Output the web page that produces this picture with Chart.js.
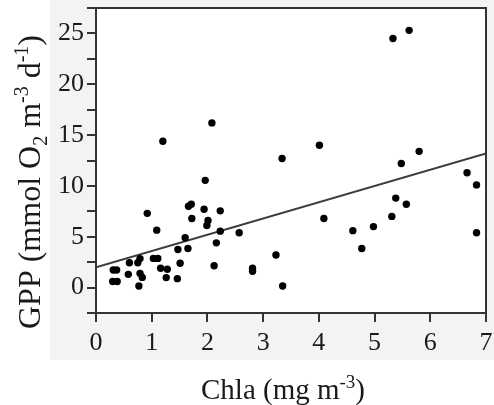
<!DOCTYPE html>
<html>
<head>
<meta charset="utf-8">
<script src="https://cdn.jsdelivr.net/npm/chart.js@4"></script>
<style>
  html, body { margin: 0; padding: 0; background: #fff; }
</style>
</head>
<body>
<canvas id="gppChart" width="494" height="405"></canvas>
<script>
// Chla (mg m-3) and GPP (mmol O2 m-3 d-1) per sample
const chla = [1.20, 2.08, 3.34, 5.33, 5.62, 4.01, 5.80, 5.48, 6.66, 6.83,
  5.38, 5.57, 4.09, 4.61, 4.98, 5.31, 4.77, 6.83, 3.35, 1.96,
  0.92, 1.66, 1.71, 1.94, 2.23, 1.72, 2.01, 1.99, 1.09, 2.23,
  2.57, 1.60, 1.47, 1.65, 2.16, 1.51, 2.12, 2.81, 2.81, 3.23,
  0.31, 0.37, 0.30, 0.38, 0.58, 0.60, 0.75, 0.79, 0.77, 0.79,
  0.83, 1.03, 1.11, 1.16, 1.28, 1.26, 1.46];
const gpp = [14.4, 16.2, 12.7, 24.5, 25.3, 14.0, 13.4, 12.2, 11.3, 10.1,
  8.8, 8.2, 6.8, 5.6, 6.0, 7.0, 3.85, 5.4, 0.16, 10.55,
  7.3, 8.0, 8.2, 7.7, 7.55, 6.8, 6.6, 6.1, 5.65, 5.55,
  5.4, 4.9, 3.75, 3.85, 4.4, 2.4, 2.15, 1.9, 1.6, 3.2,
  1.73, 1.73, 0.6, 0.6, 1.3, 2.45, 2.45, 2.85, 0.16, 1.4,
  1.0, 2.87, 2.87, 1.9, 1.8, 0.98, 0.88];

// linear fit end points
const fitX = [0, 7];
const fitY = [2.0, 13.2];

const xTickValues = [0, 1, 2, 3, 4, 5, 6, 7];
const yTickLabels = [0, 5, 10, 15, 20, 25];

const yTitle = [
  { t: 'GPP (mmol O' }, { t: '2', sub: true }, { t: ' m' }, { t: '-3', sup: true },
  { t: ' d' }, { t: '-1', sup: true }, { t: ')' }
];
const xTitle = [{ t: 'Chla (mg m' }, { t: '-3', sup: true }, { t: ')' }];

const FONT = '"Liberation Serif", "Times New Roman", serif';
const INK = '#1a1a1a';
const AXIS = '#333';

// text with small sub/superscript pieces, centred on (0,0) baseline
function drawRich(ctx, parts, size) {
  const small = Math.round(size * 0.64);
  let width = 0;
  parts.forEach(p => {
    ctx.font = `${p.sub || p.sup ? small : size}px ${FONT}`;
    p.w = ctx.measureText(p.t).width;
    width += p.w;
  });
  let x = -width / 2;
  parts.forEach(p => {
    ctx.font = `${p.sub || p.sup ? small : size}px ${FONT}`;
    let dy = 0;
    if (p.sub) dy = size * 0.22;
    if (p.sup) dy = -size * 0.38;
    ctx.fillText(p.t, x, dy);
    x += p.w;
  });
}

const framePlugin = {
  id: 'frame',
  beforeDraw(chart) {
    const { ctx, chartArea: a } = chart;
    ctx.save();
    ctx.fillStyle = '#fff';
    ctx.fillRect(0, 0, chart.width, chart.height);
    ctx.fillStyle = '#f3f3f3';
    ctx.fillRect(50, 0, chart.width - 50, 360);
    ctx.fillStyle = '#fff';
    ctx.fillRect(a.left, a.top, a.right - a.left, a.bottom - a.top);
    ctx.restore();
  },
  afterDraw(chart) {
    const { ctx, chartArea: a } = chart;
    ctx.save();
    ctx.strokeStyle = AXIS;
    ctx.lineWidth = 2;
    ctx.strokeRect(a.left, a.top, a.right - a.left, a.bottom - a.top);

    ctx.fillStyle = INK;
    ctx.textBaseline = 'alphabetic';
    ctx.textAlign = 'left';
    // x axis title
    ctx.save();
    ctx.translate(283, 399);
    drawRich(ctx, xTitle, 29);
    ctx.restore();
    // y axis title
    ctx.save();
    ctx.translate(40, 182);
    ctx.rotate(-Math.PI / 2);
    drawRich(ctx, yTitle, 32);
    ctx.restore();
    ctx.restore();
  }
};

const ctx = document.getElementById('gppChart').getContext('2d');
new Chart(ctx, {
  type: 'scatter',
  data: {
    datasets: [{
      label: 'GPP',
      data: chla.map((x, i) => ({ x: x, y: gpp[i] })),
      pointRadius: 3.7,
      pointBackgroundColor: '#000',
      pointBorderWidth: 0,
      showLine: false
    }, {
      label: 'fit',
      data: fitX.map((x, i) => ({ x: x, y: fitY[i] })),
      showLine: true,
      borderColor: '#3c3c3c',
      borderWidth: 2,
      pointRadius: 0
    }]
  },
  options: {
    responsive: false,
    animation: false,
    layout: { padding: { left: 0, top: 8, right: 8, bottom: 0 } },
    plugins: {
      legend: { display: false },
      tooltip: { enabled: false }
    },
    scales: {
      x: {
        type: 'linear',
        min: 0,
        max: 7,
        afterFit(scale) {
          scale.height = 92;
          scale.paddingLeft = 0;
          scale.paddingRight = 0;
        },
        afterBuildTicks(scale) { scale.ticks = xTickValues.map(v => ({ value: v })); },
        grid: { drawOnChartArea: false, tickLength: 9, color: AXIS, lineWidth: 2 },
        border: { display: true, color: AXIS, width: 2 },
        ticks: {
          autoSkip: false,
          maxRotation: 0,
          padding: 6,
          color: INK,
          font: { family: FONT, size: 26 }
        }
      },
      y: {
        type: 'linear',
        min: -2.5,
        max: 27.5,
        afterFit(scale) {
          scale.width = 96;
          scale.paddingTop = 0;
          scale.paddingBottom = 0;
        },
        grid: { drawOnChartArea: false, tickLength: 9, color: AXIS, lineWidth: 2 },
        border: { display: true, color: AXIS, width: 2 },
        ticks: {
          stepSize: 2.5,
          autoSkip: false,
          padding: 3,
          color: INK,
          font: { family: FONT, size: 26 },
          callback: v => yTickLabels.includes(v) ? String(v) : ''
        }
      }
    }
  },
  plugins: [framePlugin]
});
</script>
</body>
</html>
